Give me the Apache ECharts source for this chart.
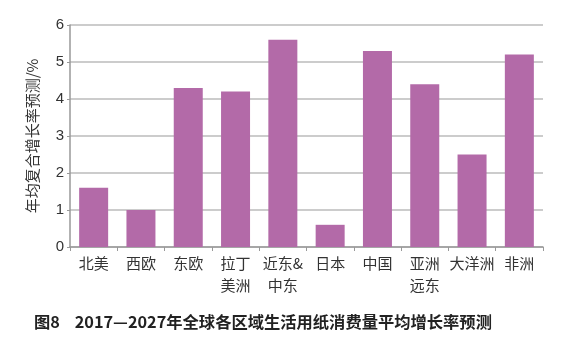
<!DOCTYPE html>
<html><head><meta charset="utf-8">
<script src="https://cdn.jsdelivr.net/npm/echarts@6/dist/echarts.min.js"></script>
<style>html,body{margin:0;padding:0;background:#fff}#c{width:571px;height:360px}</style>
</head><body><div id="c"></div>
<script>
const categories = ['北美','西欧','东欧','拉丁\n美洲','近东&\n中东','日本','中国','亚洲\n远东','大洋洲','非洲'];
const values = [1.6, 1.0, 4.3, 4.2, 5.6, 0.6, 5.3, 4.4, 2.5, 5.2];
const yTicks = [0,1,2,3,4,5,6];
const yName = '年均复合增长率预测/%';
const caption = '图8    2017—2027年全球各区域生活用纸消费量平均增长率预测';
const font = '"Noto Sans CJK SC", "Liberation Sans", sans-serif';

const chart = echarts.init(document.getElementById('c'));
chart.setOption({
  animation: false,
  grid: {left: 70, right: 28, top: 25, bottom: 113, containLabel: false},
  title: {
    text: caption, left: 29, top: 309,
    textStyle: {fontFamily: font, fontSize: 16.3, fontWeight: 'bold', color: '#222'}
  },
  xAxis: {
    type: 'category', data: categories,
    axisLine: {show: true, lineStyle: {color: '#999', width: 1.5}},
    axisTick: {show: true, length: 4, lineStyle: {color: '#999'}},
    axisLabel: {fontFamily: font, fontSize: 15, color: '#333', lineHeight: 22, margin: 5, verticalAlign: 'top', interval: 0}
  },
  yAxis: {
    type: 'value', min: yTicks[0], max: yTicks[yTicks.length-1], interval: 1,
    name: yName, nameLocation: 'middle', nameGap: 30,
    nameTextStyle: {fontFamily: font, fontSize: 15, color: '#333'},
    axisLine: {show: true, lineStyle: {color: '#999', width: 1.5}},
    axisTick: {show: true, length: 3, lineStyle: {color: '#999'}},
    axisLabel: {fontFamily: '"Liberation Sans", sans-serif', fontSize: 15, color: '#333', margin: 6},
    splitLine: {show: true, lineStyle: {color: '#bbb', width: 1.5}}
  },
  series: [{
    type: 'bar', data: values, barWidth: 29,
    itemStyle: {color: '#B36AA8'}
  }]
});
</script></body></html>
